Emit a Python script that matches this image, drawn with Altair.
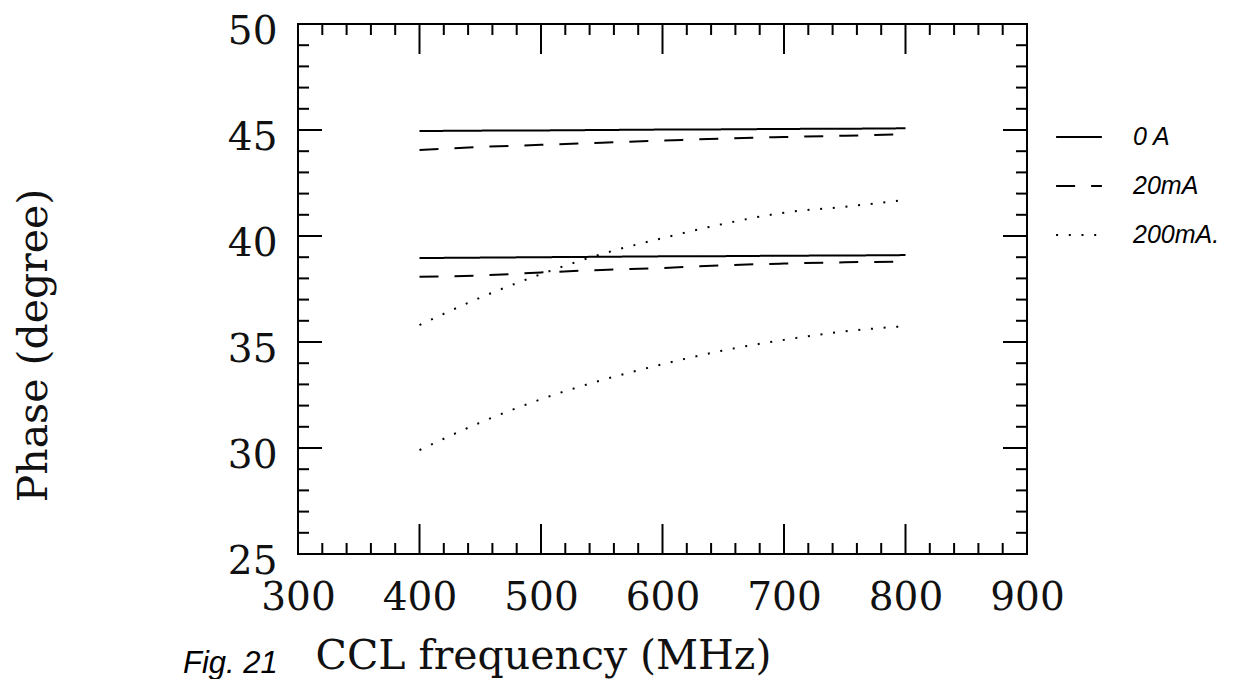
import altair as alt
import pandas as pd

# ---- data ----
freq = [400, 450, 500, 550, 600, 650, 700, 750, 800]

solid_upper = [44.95, 44.97, 44.98, 45.0, 45.02, 45.03, 45.05, 45.06, 45.08]
solid_lower = [38.96, 38.98, 39.0, 39.02, 39.04, 39.05, 39.07, 39.08, 39.1]
dashed_upper = [44.06, 44.2, 44.3, 44.4, 44.5, 44.6, 44.67, 44.73, 44.8]
dashed_lower = [38.08, 38.14, 38.28, 38.4, 38.49, 38.62, 38.7, 38.76, 38.79]
dotted_upper = [35.8, 37.09, 38.2, 39.15, 39.9, 40.57, 41.1, 41.38, 41.7]
dotted_lower = [29.9, 31.2, 32.3, 33.2, 33.95, 34.6, 35.1, 35.5, 35.75]

currents = ["0 A", "20mA", "200mA."]

x_labels = [300, 400, 500, 600, 700, 800, 900]
y_labels = [25, 30, 35, 40, 45, 50]
x_major_ticks = [400, 500, 600, 700, 800]
x_minor_ticks = [320, 340, 360, 380, 420, 440, 460, 480, 520, 540, 560, 580,
                 620, 640, 660, 680, 720, 740, 760, 780, 820, 840, 860, 880]
y_major_ticks = [30, 35, 40, 45]
y_minor_ticks = [26, 27, 28, 29, 31, 32, 33, 34, 36, 37, 38, 39,
                 41, 42, 43, 44, 46, 47, 48, 49]

series = [
    ("0 A", "a", solid_upper), ("0 A", "b", solid_lower),
    ("20mA", "a", dashed_upper), ("20mA", "b", dashed_lower),
    ("200mA.", "a", dotted_upper), ("200mA.", "b", dotted_lower),
]
rows = []
for cur, grp, vals in series:
    for f, v in zip(freq, vals):
        rows.append({"freq": f, "phase": v, "current": cur, "curve": cur + grp})
df = pd.DataFrame(rows)

W, H = 729, 530
FONT = "DejaVu Serif"

xs = alt.Scale(domain=[300, 900], nice=False, zero=False)
ys = alt.Scale(domain=[25, 50], nice=False, zero=False)

x_axis = alt.Axis(
    values=x_labels, ticks=False, domain=False, grid=False, tickSize=0,
    labelFont=FONT, labelFontSize=39, labelColor="#111111", labelPadding=24,
    labelFlush=False, format="d",
    title="CCL frequency (MHz)", titleFont=FONT, titleFontSize=41,
    titleFontWeight="normal", titleColor="#111111",
    titleX=245, titleY=114, titleAlign="center", titleBaseline="alphabetic")
y_axis = alt.Axis(
    values=y_labels, ticks=False, domain=False, grid=False, tickSize=0,
    labelFont=FONT, labelFontSize=39, labelColor="#111111", labelPadding=21,
    labelOffset=7, labelFlush=False, format="d",
    title="Phase (degree)", titleFont=FONT, titleFontSize=41,
    titleFontWeight="normal", titleColor="#111111",
    titleX=-252, titleY=321, titleAlign="center", titleBaseline="alphabetic")

lines = alt.Chart(df).mark_line(color="black", strokeWidth=2, interpolate="monotone",
                                strokeCap="butt").encode(
    x=alt.X("freq:Q", scale=xs, axis=x_axis),
    y=alt.Y("phase:Q", scale=ys, axis=y_axis),
    strokeDash=alt.StrokeDash("current:N",
        scale=alt.Scale(domain=currents, range=[[1, 0], [19, 16], [2, 10.7]]),
        sort=currents,
        legend=alt.Legend(orient="none", legendX=757, legendY=89, title=None,
                          symbolType="stroke", symbolSize=2100, symbolStrokeWidth=2,
                          symbolStrokeColor="black", labelFont="Liberation Sans",
                          labelFontStyle="italic", labelFontSize=25, labelColor="black",
                          labelOffset=30, rowPadding=12)),
    detail="curve:N",
)

def rule_x(vals, y0, y1):
    d = pd.DataFrame({"v": vals})
    return alt.Chart(d).mark_rule(color="black", strokeWidth=2).encode(
        x=alt.X("v:Q", scale=xs, axis=x_axis), y=alt.value(y0), y2=alt.value(y1))

def rule_y(vals, x0, x1):
    d = pd.DataFrame({"v": vals})
    return alt.Chart(d).mark_rule(color="black", strokeWidth=2).encode(
        y=alt.Y("v:Q", scale=ys, axis=y_axis), x=alt.value(x0), x2=alt.value(x1))

ticks = [
    rule_x(x_minor_ticks, H, H - 11), rule_x(x_minor_ticks, 0, 11),
    rule_x(x_major_ticks, H, H - 30), rule_x(x_major_ticks, 0, 30),
    rule_y(y_minor_ticks, 0, 11), rule_y(y_minor_ticks, W - 11, W),
    rule_y(y_major_ticks, 0, 24), rule_y(y_major_ticks, W - 24, W),
]

fig = alt.Chart(alt.Data(values=[{"t": "Fig. 21"}])).mark_text(
    font="Liberation Sans", fontStyle="italic", fontSize=31, align="left",
    baseline="alphabetic", color="black").encode(
    text="t:N", x=alt.value(-115), y=alt.value(649))

chart = alt.layer(lines, *ticks, fig).properties(
    width=W, height=H,
    autosize=alt.AutoSizeParams(type="none"),
    padding={"left": 298, "top": 24, "right": 223, "bottom": 125},
    background="white",
).configure_view(stroke="black", strokeWidth=2)

chart.save("out.html", embed_options={"renderer": "svg", "actions": False})
